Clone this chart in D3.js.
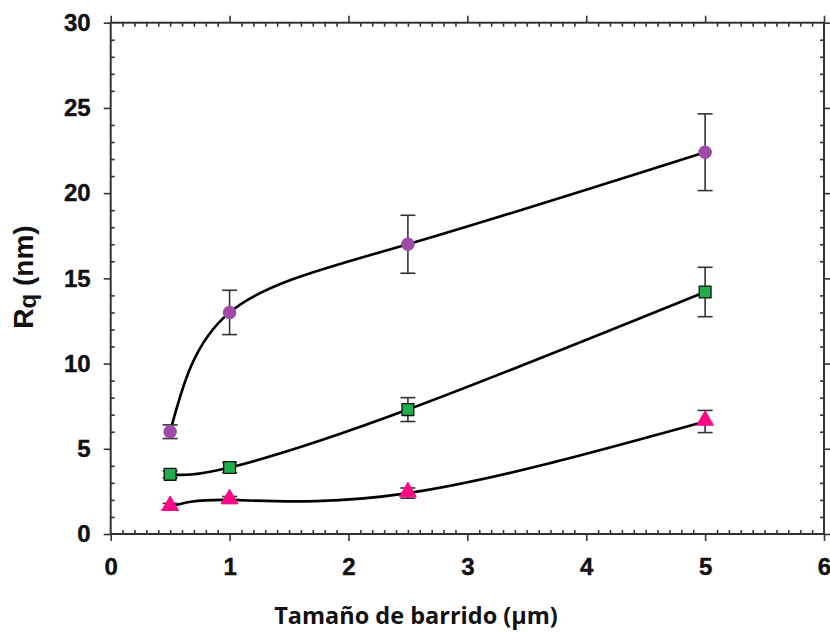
<!DOCTYPE html>
<html>
<head>
<meta charset="utf-8">
<script src="https://cdn.jsdelivr.net/npm/d3@7"></script>
<style>
  html, body { margin: 0; padding: 0; background: #fff; }
  svg { display: block; }
</style>
</head>
<body>
<svg id="chart" width="830" height="635"></svg>
<script>
// Scan sizes (µm)
const scanSizes = [0.5, 1, 2.5, 5];

// Rq (nm) per series, with error bar half-widths
const seriesCircleRq  = [6.0, 13.0, 17.0, 22.4];
const seriesCircleErr = [0.4, 1.3, 1.7, 2.25];
const seriesSquareRq  = [3.5, 3.9, 7.3, 14.2];
const seriesSquareErr = [0.2, 0.3, 0.7, 1.45];
const seriesTriRq     = [1.6, 2.0, 2.4, 6.6];
const seriesTriErr    = [0.2, 0.2, 0.3, 0.65];

const xTicks = [0, 1, 2, 3, 4, 5, 6];
const yTicks = [0, 5, 10, 15, 20, 25, 30];
const xLabel = "Tamaño de barrido (μm)";

const series = [
  { name: "circle",   shape: "circle",   color: "#a04ba7", stroke: "none", values: seriesCircleRq, errs: seriesCircleErr },
  { name: "square",   shape: "square",   color: "#20ad4c", stroke: "#111", values: seriesSquareRq, errs: seriesSquareErr },
  { name: "triangle", shape: "triangle", color: "#fb0a86", stroke: "none", values: seriesTriRq,    errs: seriesTriErr }
];

const svg = d3.select("#chart");
const plotL = 110.7, plotR = 824, plotT = 22.7, plotB = 534;

const x = d3.scaleLinear().domain([0, 6]).range([plotL, plotR]);
const y = d3.scaleLinear().domain([0, 30]).range([plotB, plotT]);

const axisColor = "#333";
const fontTicks = "'Liberation Sans', Arial, sans-serif";

const xMinor = d3.range(0, 6.0001, 0.1).map(v => +v.toFixed(1)).filter(v => Math.abs(v - Math.round(v)) > 1e-6);
const yMinor = d3.range(0, 31, 1).filter(v => v % 5 !== 0);

function styleAxis(g) {
  g.select(".domain").remove();
  g.selectAll(".tick line").attr("stroke", axisColor).attr("stroke-width", 1.6);
}
function styleLabels(g) {
  g.selectAll("text")
    .attr("font-family", fontTicks).attr("font-size", 24).attr("font-weight", "bold")
    .attr("fill", "#111").attr("stroke", "#111").attr("stroke-width", 0.4);
}

// bottom axis: major outward with labels, minor inward
svg.append("g").attr("transform", `translate(0,${plotB})`)
  .call(d3.axisBottom(x).tickValues(xTicks).tickSize(7).tickPadding(17).tickFormat(d3.format("d")))
  .call(styleAxis)
  .call(styleLabels);
svg.append("g").attr("transform", `translate(0,${plotB})`)
  .call(d3.axisBottom(x).tickValues(xMinor).tickSize(-4).tickFormat(""))
  .call(styleAxis);

// top axis
svg.append("g").attr("transform", `translate(0,${plotT})`)
  .call(d3.axisTop(x).tickValues(xTicks).tickSize(7).tickFormat(""))
  .call(styleAxis);
svg.append("g").attr("transform", `translate(0,${plotT})`)
  .call(d3.axisTop(x).tickValues(xMinor).tickSize(-4).tickFormat(""))
  .call(styleAxis);

// left axis
svg.append("g").attr("transform", `translate(${plotL},0)`)
  .call(d3.axisLeft(y).tickValues(yTicks).tickSize(7).tickPadding(13).tickFormat(d3.format("d")))
  .call(styleAxis)
  .call(styleLabels);
svg.append("g").attr("transform", `translate(${plotL},0)`)
  .call(d3.axisLeft(y).tickValues(yMinor).tickSize(-4).tickFormat(""))
  .call(styleAxis);

// right axis
svg.append("g").attr("transform", `translate(${plotR},0)`)
  .call(d3.axisRight(y).tickValues(yTicks).tickSize(7).tickFormat(""))
  .call(styleAxis);
svg.append("g").attr("transform", `translate(${plotR},0)`)
  .call(d3.axisRight(y).tickValues(yMinor).tickSize(-4).tickFormat(""))
  .call(styleAxis);

// frame
svg.append("rect")
  .attr("x", plotL).attr("y", plotT)
  .attr("width", plotR - plotL).attr("height", plotB - plotT)
  .attr("fill", "none").attr("stroke", axisColor).attr("stroke-width", 2);

// fitted curves
const line = d3.line()
  .x((d, i) => x(scanSizes[i]))
  .y(d => y(d))
  .curve(d3.curveNatural);

series.forEach(s => {
  svg.append("path")
    .attr("d", line(s.values))
    .attr("fill", "none")
    .attr("stroke", "#000")
    .attr("stroke-width", 2.6);
});

// error bars
const cap = 7.5;
series.forEach(s => {
  const g = svg.append("g").attr("stroke", "#333").attr("stroke-width", 1.6);
  s.values.forEach((v, i) => {
    const cx = x(scanSizes[i]);
    const y1 = y(v + s.errs[i]), y0 = y(v - s.errs[i]);
    g.append("line").attr("x1", cx).attr("x2", cx).attr("y1", y1).attr("y2", y0);
    g.append("line").attr("x1", cx - cap).attr("x2", cx + cap).attr("y1", y1).attr("y2", y1);
    g.append("line").attr("x1", cx - cap).attr("x2", cx + cap).attr("y1", y0).attr("y2", y0);
  });
});

// markers
const symbolFor = { circle: d3.symbolCircle, square: d3.symbolSquare, triangle: d3.symbolTriangle };
const sizeFor = { circle: 145, square: 140, triangle: 115 };
series.forEach(s => {
  svg.append("g").selectAll("path")
    .data(s.values)
    .join("path")
    .attr("transform", (d, i) => `translate(${x(scanSizes[i])},${y(d) + (s.shape === "triangle" ? -1 : 0)})`)
    .attr("d", d3.symbol().type(symbolFor[s.shape]).size(sizeFor[s.shape]))
    .attr("fill", s.color)
    .attr("stroke", s.shape === "triangle" ? s.color : s.stroke)
    .attr("stroke-linejoin", "round")
    .attr("stroke-width", s.shape === "circle" ? 0 : 1.3);
});

// axis titles
const yTitle = svg.append("text")
  .attr("transform", "translate(33,277) rotate(-90)")
  .attr("text-anchor", "middle")
  .attr("font-family", fontTicks)
  .attr("font-weight", "bold")
  .attr("font-size", 28)
  .attr("fill", "#111");
yTitle.append("tspan").text("R");
yTitle.append("tspan").attr("font-size", 24).attr("dy", 3).text("q");
yTitle.append("tspan").attr("dy", -3).text(" (nm)");

svg.append("text")
  .attr("x", 416).attr("y", 624)
  .attr("text-anchor", "middle")
  .attr("font-family", "'Open Sans', 'DejaVu Sans', sans-serif")
  .attr("font-weight", "bold")
  .attr("font-size", 23.5)
  .attr("fill", "#111")
  .text(xLabel);
</script>
</body>
</html>
